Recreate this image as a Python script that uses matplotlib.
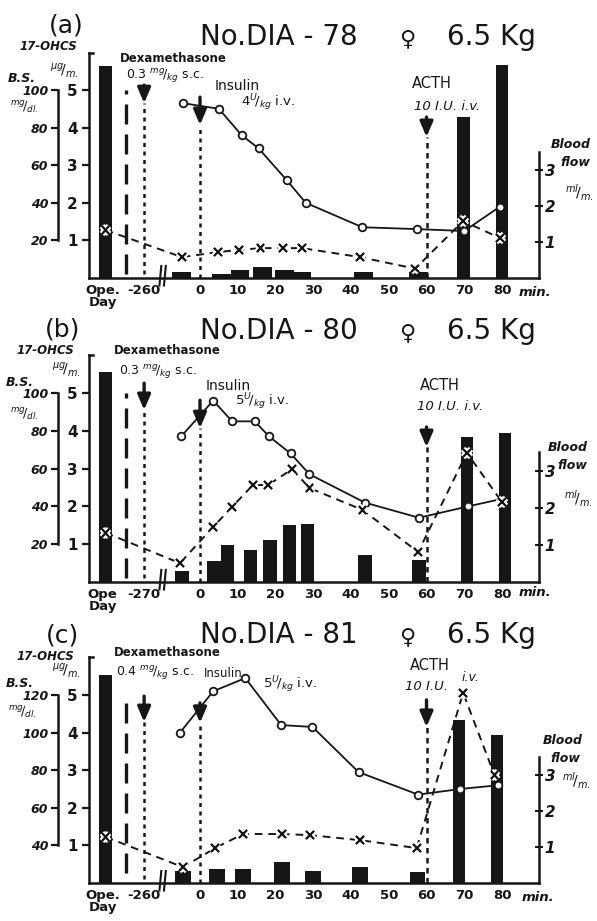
import matplotlib
matplotlib.use("Agg")
import matplotlib.pyplot as plt
from matplotlib import patheffects as pe

W, H = 597, 921

# x positions in minutes; the columns left of the break are the operation day
# and the dexamethasone injection (given -260 / -270 min before insulin)
OPE = -25
SEP_X = -19.7
DEXA_X = -14.8
BREAK_X = -9.8
ACTH_X = 60
minute_ticks = [0, 10, 20, 30, 40, 50, 60, 70, 80]

# ---- (a) No.DIA-78 ----
a_bar_x = [OPE, -4.8, 5.6, 10.6, 16.6, 22.3, 26.9, 43.2, 57.9, 69.8, 80.0]
a_ohcs = [5.64, 0.16, 0.11, 0.21, 0.29, 0.21, 0.16, 0.16, 0.16, 4.28, 5.66]   # 17-OHCS ug/m
a_bs_x = [-4.5, 5, 11, 15.5, 23, 28, 43, 57.5, 70, 79.5]
a_bs = [93, 90, 76, 69, 52, 40, 27, 26, 25, 38]                              # blood sugar mg/dl
a_flow_x = [OPE, -4.8, 4.8, 10.3, 16, 22, 27, 42.4, 57, 69.7, 79.5]
a_flow = [1.33, 0.58, 0.72, 0.78, 0.83, 0.83, 0.83, 0.58, 0.26, 1.58, 1.11]  # blood flow ml/m

# ---- (b) No.DIA-80 ----
b_bar_x = [OPE, -4.8, 3.7, 7.3, 13.4, 18.5, 23.7, 28.5, 43.7, 58, 70.7, 80.8]
b_ohcs = [5.56, 0.29, 0.56, 0.98, 0.85, 1.11, 1.51, 1.53, 0.71, 0.58, 3.84, 3.94]
b_bs_x = [-5, 3.5, 8.5, 14.5, 18.3, 24, 29, 43.7, 58, 71, 80]
b_bs = [77, 96, 85, 85, 77, 68, 57, 42, 34, 40, 44]
b_flow_x = [OPE, -5.3, 3.5, 8.5, 14, 18, 24.4, 29, 43, 57.8, 70.7, 80]
b_flow = [1.33, 0.51, 1.49, 2.03, 2.62, 2.62, 3.05, 2.54, 1.95, 0.81, 3.49, 2.16]

# ---- (c) No.DIA-81 ----
c_bar_x = [OPE, -4.4, 4.4, 11.5, 21.7, 30, 42.3, 57.6, 68.6, 78.7]
c_ohcs = [5.53, 0.32, 0.37, 0.37, 0.56, 0.32, 0.42, 0.29, 4.33, 3.94]
c_bs_x = [-5.3, 3.5, 12, 21.5, 29.8, 42, 57.8, 68.9, 79]
c_bs = [100, 122, 129, 104, 103, 79, 67, 70, 72]
c_flow_x = [OPE, -4.5, 4, 11.4, 21.7, 29.1, 42.4, 57.4, 69.7, 78]
c_flow = [1.28, 0.44, 0.97, 1.36, 1.36, 1.33, 1.19, 0.97, 5.28, 3.0]

panels = [
    dict(tag="(a)", no="78", day="-260", ope="Ope.\nDay", dose="0.3", ins="4",
         bars=(a_bar_x, a_ohcs), bs=(a_bs_x, a_bs), flow=(a_flow_x, a_flow),
         bs0=0, bs_ticks=[20, 40, 60, 80, 100],
         top=53, bottom=278, unit=37.6, bf_unit=36.0, bar_w=5.0,
         dexa=(5.13, 4.65), insulin=(4.81, 4.07), acth=(4.28, 3.75), sep=(0.1, 5.0),
         txt=dict(tag=(66, 26), title=45, ohcs=(48, 46), ug=(64, 71), bs=(22, 78), mg=(24, 108),
                  dexa=(173, 58), dose=(165, 76), insulin=(237, 86), ins_dose=(268, 103),
                  acth=(432, 83), acth_dose=(447, 106),
                  blood=(571, 145), flow=(575, 163), mlm=(579, 193), minl=(535, 292))),
    dict(tag="(b)", no="80", day="-270", ope="Ope\nDay", dose="0.3", ins="5",
         bars=(b_bar_x, b_ohcs), bs=(b_bs_x, b_bs), flow=(b_flow_x, b_flow),
         bs0=0, bs_ticks=[20, 40, 60, 80, 100],
         top=355, bottom=582, unit=37.8, bf_unit=37.0, bar_w=3.6,
         dexa=(5.26, 4.55), insulin=(4.81, 4.07), acth=(4.1, 3.57), sep=(0.1, 5.0),
         txt=dict(tag=(63, 329), title=339, ohcs=(45, 351), ug=(66, 370), bs=(20, 383), mg=(24, 415),
                  dexa=(167, 350), dose=(158, 372), insulin=(228, 386), ins_dose=(262, 402),
                  acth=(440, 385), acth_dose=(450, 407),
                  blood=(568, 447), flow=(572, 465), mlm=(578, 499), minl=(535, 593))),
    dict(tag="(c)", no="81", day="-260", ope="Ope.\nDay", dose="0.4", ins="5",
         bars=(c_bar_x, c_ohcs), bs=(c_bs_x, c_bs), flow=(c_flow_x, c_flow),
         bs0=20, bs_ticks=[40, 60, 80, 100, 120],
         top=657, bottom=883, unit=37.6, bf_unit=36.0, bar_w=4.2,
         dexa=(4.97, 4.28), insulin=(4.79, 4.26), acth=(4.87, 4.15), sep=(0.27, 4.9),
         txt=dict(tag=(63, 635), title=643, ohcs=(45, 656), ug=(66, 671), bs=(20, 683), mg=(22, 713),
                  dexa=(167, 653), dose=(155, 673), insulin=(223, 673), ins_dose=(290, 685),
                  acth=(430, 665), acth_dose=(427, 686),
                  blood=(563, 740), flow=(565, 758), mlm=(576, 781), minl=(538, 897))),
]

L_PX, R_PX = 89, 539
XMIN = (L_PX - 200) / 3.775
XMAX = (R_PX - 200) / 3.775
BS_SPINE_PX = 58
BIG_W = 3.3
INK = "#161616"

fig = plt.figure(figsize=(W / 100, H / 100), dpi=100)
fig.patch.set_facecolor("white")


def ftext(pos, s, **kw):
    kw.setdefault("ha", "center")
    kw.setdefault("va", "center")
    fig.text(pos[0] / W, 1 - pos[1] / H, s, color=INK, **kw)


def arrow(ax, x, tail, tip):
    ax.annotate("", xy=(x, tip), xytext=(x, tail), annotation_clip=False,
                arrowprops=dict(arrowstyle="-|>,head_width=0.3,head_length=0.7",
                                lw=2.4, color=INK, mutation_scale=13,
                                shrinkA=0, shrinkB=0))


def draw_panel(p):
    top, bot = p["top"], p["bottom"]
    t = p["txt"]
    ax = fig.add_axes([L_PX / W, 1 - bot / H, (R_PX - L_PX) / W, (bot - top) / H])
    ytop = (bot - top) / p["unit"]
    ax.set_xlim(XMIN, XMAX)
    ax.set_ylim(0, ytop)
    ax.patch.set_alpha(0)

    # 17-OHCS bars
    bx, bv = p["bars"]
    widths = [BIG_W if v > 2 else p["bar_w"] for v in bv]
    ax.bar(bx, bv, width=widths, color=INK, zorder=2, clip_on=False)

    for s in ("top", "right"):
        ax.spines[s].set_visible(False)
    for s in ("left", "bottom"):
        ax.spines[s].set_linewidth(1.8)
        ax.spines[s].set_color(INK)
    ax.plot([XMIN, XMIN + 1.1], [ytop, ytop], color=INK, lw=1.8, clip_on=False)

    ax.set_yticks([1, 2, 3, 4, 5])
    ax.set_yticklabels(["1", "2", "3", "4", "5"], fontweight="bold")
    ax.tick_params(axis="y", direction="out", length=5, width=1.6, labelsize=11,
                   pad=3, colors=INK)
    ax.set_xticks([OPE - 0.8, DEXA_X] + minute_ticks)
    ax.set_xticklabels([p["ope"], p["day"]] + [str(m) for m in minute_ticks],
                       fontweight="bold", linespacing=0.95, va="top")
    ax.tick_params(axis="x", length=0, pad=4, labelsize=9.5, colors=INK)

    # event markers
    lo, hi = p["sep"]
    ax.plot([SEP_X, SEP_X], [lo, hi], color=INK, lw=2.4, ls=(0, (6, 3)), zorder=3)
    tail, tip = p["dexa"]
    ax.plot([DEXA_X, DEXA_X], [0.1, tip], color=INK, lw=1.8, ls=(0, (1.6, 1.8)), zorder=3)
    arrow(ax, DEXA_X, tail, tip)
    tail, tip = p["insulin"]
    ax.plot([0, 0], [0, tip], color=INK, lw=1.8, ls=(0, (1.6, 1.8)), zorder=3)
    arrow(ax, 0, tail, tip)
    tail, tip = p["acth"]
    ax.plot([ACTH_X, ACTH_X], [0, tip], color=INK, lw=1.8, ls=(0, (2.2, 1.8)), zorder=3)
    arrow(ax, ACTH_X, tail, tip)

    # axis break
    for dx in (-0.7, 0.5):
        ax.plot([BREAK_X + dx - 0.25, BREAK_X + dx + 0.25], [-0.2, 0.32], color=INK,
                lw=1.5, clip_on=False, zorder=4)

    # blood sugar axis (left, outer)
    ax_bs = ax.twinx()
    ax_bs.set_ylim(p["bs0"], p["bs0"] + 20 * ytop)
    for s in ("top", "bottom", "right"):
        ax_bs.spines[s].set_visible(False)
    sp = ax_bs.spines["left"]
    sp.set_visible(True)
    sp.set_position(("outward", (L_PX - BS_SPINE_PX) * 0.72))
    sp.set_bounds(p["bs_ticks"][0], p["bs_ticks"][-1])
    sp.set_linewidth(1.8)
    sp.set_color(INK)
    ax_bs.yaxis.set_ticks_position("left")
    ax_bs.set_yticks(p["bs_ticks"])
    ax_bs.set_yticklabels([str(v) for v in p["bs_ticks"]], fontweight="bold", fontstyle="italic")
    ax_bs.tick_params(axis="y", direction="out", length=5, width=1.6, labelsize=9,
                      pad=2, colors=INK)
    ax_bs.plot(*p["bs"], "-o", color=INK, lw=1.3, ms=5.5, mfc="white", mec=INK,
               mew=1.3, zorder=4, clip_on=False)

    # blood flow axis (right)
    ax_bf = ax.twinx()
    ax_bf.set_ylim(0, (bot - top) / p["bf_unit"])
    for s in ("top", "bottom", "left"):
        ax_bf.spines[s].set_visible(False)
    sp = ax_bf.spines["right"]
    sp.set_bounds(0, 3.5)
    sp.set_linewidth(1.8)
    sp.set_color(INK)
    ax_bf.set_yticks([1, 2, 3])
    ax_bf.set_yticklabels(["1", "2", "3"], fontweight="bold", fontstyle="italic")
    ax_bf.tick_params(axis="y", direction="inout", length=6, width=1.5, labelsize=11,
                      pad=1, colors=INK)
    fx, fv = p["flow"]
    ax_bf.plot(fx, fv, color=INK, lw=1.4, ls=(0, (4, 3)), zorder=3, clip_on=False)
    ax_bf.plot(fx, fv, "x", color=INK, ms=5.5, mew=1.4, zorder=4, clip_on=False,
               path_effects=[pe.withStroke(linewidth=4.5, foreground="white"), pe.Normal()])

    # texts
    ftext(t["tag"], p["tag"], fontsize=18)
    y0 = t["title"]
    ftext((200, y0), "No.DIA - " + p["no"], fontsize=20, ha="left", va="baseline")
    ftext((407, y0), "\u2640", fontsize=16, va="baseline")
    ftext((447, y0), "6.5 Kg", fontsize=20, ha="left", va="baseline")
    ftext(t["ohcs"], "17-OHCS", fontsize=8.5, fontweight="bold", fontstyle="italic")
    ftext(t["ug"], r"$^{\mu g}\!/_{m.}$", fontsize=10)
    ftext(t["bs"], "B.S.", fontsize=9, fontweight="bold", fontstyle="italic")
    ftext(t["mg"], r"$^{mg}\!/_{dl.}$", fontsize=9)
    ftext(t["dexa"], "Dexamethasone", fontsize=8.5, fontweight="bold")
    ftext(t["dose"], p["dose"] + r" $^{mg}\!/_{kg}$" + " s.c.", fontsize=9)
    ftext(t["insulin"], "Insulin", fontsize=10 if p["tag"] != "(c)" else 8.5)
    ftext(t["ins_dose"], p["ins"] + r"$^{U}\!/_{kg}$" + " i.v.", fontsize=9.5)
    ftext(t["acth"], "ACTH", fontsize=10.5)
    if p["tag"] == "(c)":
        ftext(t["acth_dose"], "10 I.U.", fontsize=9.5, fontstyle="italic")
        ftext((470, 677), "i.v.", fontsize=9, fontstyle="italic")
    else:
        ftext(t["acth_dose"], "10 I.U. i.v.", fontsize=9.5, fontstyle="italic")
    ftext(t["blood"], "Blood", fontsize=9, fontweight="bold", fontstyle="italic")
    ftext(t["flow"], "flow", fontsize=9, fontweight="bold", fontstyle="italic")
    ftext(t["mlm"], r"$^{ml}\!/_{m.}$", fontsize=10)
    ftext(t["minl"], "min.", fontsize=9.5, fontweight="bold", fontstyle="italic")


for p in panels:
    draw_panel(p)

fig.savefig("out.png", dpi=100, facecolor="white")
